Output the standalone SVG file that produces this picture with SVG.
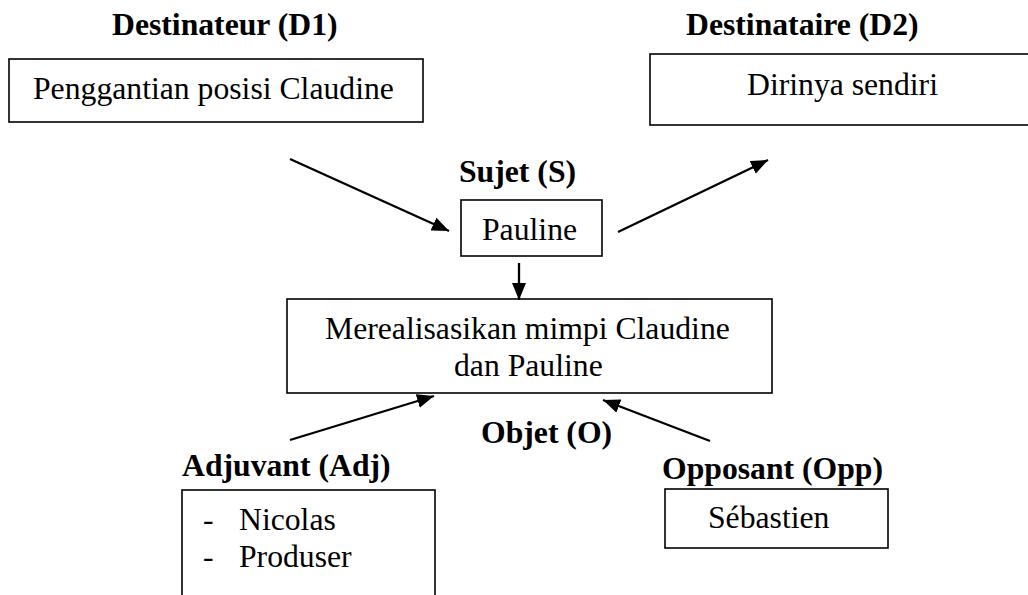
<svg xmlns="http://www.w3.org/2000/svg" width="1028" height="595" viewBox="0 0 1028 595">
<style>
.box{fill:#fff;stroke:#000;stroke-width:1.6}
.t{font-family:"Liberation Serif","Times New Roman",serif;font-size:31.7px;fill:#000}
.b{font-weight:bold}
.c{stroke:#000;stroke-width:2.3;fill:none}
</style>
<defs>
<marker id="ah" markerUnits="userSpaceOnUse" markerWidth="19" markerHeight="15" refX="17" refY="7" orient="auto">
<path d="M0,0 L17,7 L0,14 Z" fill="#000"/>
</marker>
</defs>
<rect width="1028" height="595" fill="#fff"/>
<g id="d1">
<text class="t b" x="112" y="35">Destinateur (D1)</text>
<rect class="box" x="9" y="59" width="414" height="63"/>
<text class="t" x="33" y="99">Penggantian posisi Claudine</text>
</g>
<g id="d2">
<text class="t b" x="686" y="35">Destinataire (D2)</text>
<rect class="box" x="650" y="54" width="400" height="71"/>
<text class="t" x="747" y="95">Dirinya sendiri</text>
</g>
<g id="s">
<text class="t b" x="459" y="182">Sujet (S)</text>
<rect class="box" x="461" y="200" width="141" height="56"/>
<text class="t" x="482" y="240">Pauline</text>
</g>
<g id="o">
<rect class="box" x="287" y="299" width="485" height="94"/>
<text class="t" x="325" y="339">Merealisasikan mimpi Claudine</text>
<text class="t" x="454" y="376">dan Pauline</text>
<text class="t b" x="481" y="443">Objet (O)</text>
</g>
<g id="adj">
<text class="t b" x="182" y="476">Adjuvant (Adj)</text>
<rect class="box" x="182" y="490" width="253" height="130"/>
<text class="t" x="203" y="530">-</text>
<text class="t" x="239" y="530">Nicolas</text>
<text class="t" x="203" y="567">-</text>
<text class="t" x="239" y="567">Produser</text>
</g>
<g id="opp">
<text class="t b" x="662" y="479">Opposant (Opp)</text>
<rect class="box" x="665" y="489" width="223" height="59"/>
<text class="t" x="708" y="528">Sébastien</text>
</g>
<g id="connectors">
<line class="c" x1="290" y1="159" x2="449" y2="231" marker-end="url(#ah)"/>
<line class="c" x1="618" y1="232" x2="768" y2="160" marker-end="url(#ah)"/>
<line class="c" x1="519" y1="263" x2="519" y2="300" marker-end="url(#ah)"/>
<line class="c" x1="290" y1="440" x2="434" y2="396" marker-end="url(#ah)"/>
<line class="c" x1="710" y1="441" x2="603" y2="400" marker-end="url(#ah)"/>
</g>
</svg>
